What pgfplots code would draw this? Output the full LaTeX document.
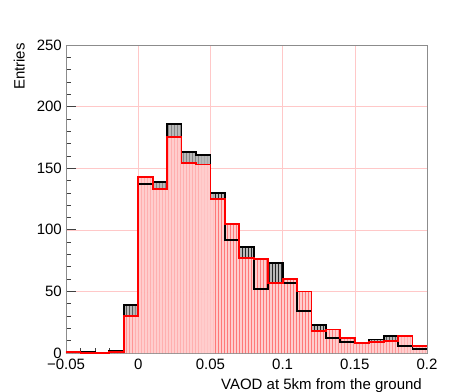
\documentclass[border=0pt]{standalone}
\usepackage{pgfplots}
\pgfplotsset{compat=1.18}
\usepackage{fontspec}
\setmainfont{Liberation Sans}
\usetikzlibrary{patterns}
\definecolor{pinkfill}{RGB}{255,205,205}
\definecolor{pinkline}{RGB}{255,120,120}
\definecolor{grayfill}{RGB}{185,185,185}
\definecolor{gridred}{RGB}{255,200,200}
\begin{document}
\fontsize{15bp}{18bp}\selectfont
\begin{tikzpicture}
\begin{axis}[
  scale only axis, width=361bp, height=308bp,
  xmin=-0.05, xmax=0.2, ymin=0, ymax=250,
  xtick={-0.05,0,0.05,0.1,0.15,0.2},
  xticklabels={−0.05,0,0.05,0.1,0.15,0.2},
  ytick={0,50,100,150,200,250},
  yticklabels={0,50,100,150,200,250},
  minor x tick num=4, minor y tick num=4,
  xtick pos=bottom, ytick pos=left,
  tick align=inside,
  major tick length=10bp, minor tick length=5bp,
  tick style={black!75, line width=0.6bp},
  axis line style={black!45, line width=0.8bp},
  grid=major, major grid style={gridred, line width=0.5bp},
  axis on top=false,
  xticklabel style={font=\fontsize{15bp}{18bp}\selectfont, yshift=-1bp},
  yticklabel style={font=\fontsize{15bp}{18bp}\selectfont, xshift=1bp},
  /pgf/number format/assume math mode=true,
  xlabel={VAOD at 5km from the ground},
  xlabel style={font=\fontsize{15bp}{18bp}\selectfont, at={(rel axis cs:1,0)}, anchor=north east, yshift=-20bp},
]
% black histogram fill
\addplot[const plot mark left, draw=none, fill=grayfill] coordinates {
(-0.05,1)(-0.04,1)(-0.03,0)(-0.02,2)(-0.01,39)(0,137)(0.01,139)(0.02,186)(0.03,163)(0.04,161)
(0.05,130)(0.06,92)(0.07,86)(0.08,52)(0.09,73)(0.10,57)(0.11,34)(0.12,23)(0.13,12)(0.14,9)
(0.15,8)(0.16,11)(0.17,14)(0.18,6)(0.19,3)(0.2,3)} \closedcycle;
\addplot[const plot mark left, draw=none, pattern=vertical lines, pattern color=black!85] coordinates {
(-0.05,1)(-0.04,1)(-0.03,0)(-0.02,2)(-0.01,39)(0,137)(0.01,139)(0.02,186)(0.03,163)(0.04,161)
(0.05,130)(0.06,92)(0.07,86)(0.08,52)(0.09,73)(0.10,57)(0.11,34)(0.12,23)(0.13,12)(0.14,9)
(0.15,8)(0.16,11)(0.17,14)(0.18,6)(0.19,3)(0.2,3)} \closedcycle;
% red histogram fill
\addplot[const plot mark left, draw=none, fill=pinkfill] coordinates {
(-0.05,1)(-0.04,0)(-0.03,0)(-0.02,1)(-0.01,30)(0,143)(0.01,133)(0.02,175)(0.03,154)(0.04,153)
(0.05,125)(0.06,105)(0.07,77)(0.08,76)(0.09,57)(0.10,60)(0.11,50)(0.12,18)(0.13,19)(0.14,12)
(0.15,8)(0.16,9)(0.17,10)(0.18,14)(0.19,6)(0.2,6)} \closedcycle;
\addplot[const plot mark left, draw=none, pattern=vertical lines, pattern color=pinkline] coordinates {
(-0.05,1)(-0.04,0)(-0.03,0)(-0.02,1)(-0.01,30)(0,143)(0.01,133)(0.02,175)(0.03,154)(0.04,153)
(0.05,125)(0.06,105)(0.07,77)(0.08,76)(0.09,57)(0.10,60)(0.11,50)(0.12,18)(0.13,19)(0.14,12)
(0.15,8)(0.16,9)(0.17,10)(0.18,14)(0.19,6)(0.2,6)} \closedcycle;
% black outline
\addplot[const plot mark left, black, line width=1.8bp, mark=none] coordinates {
(-0.05,1)(-0.04,1)(-0.03,0)(-0.02,2)(-0.01,39)(0,137)(0.01,139)(0.02,186)(0.03,163)(0.04,161)
(0.05,130)(0.06,92)(0.07,86)(0.08,52)(0.09,73)(0.10,57)(0.11,34)(0.12,23)(0.13,12)(0.14,9)
(0.15,8)(0.16,11)(0.17,14)(0.18,6)(0.19,3)(0.2,3)};
% red outline
\addplot[const plot mark left, red, line width=1.8bp, mark=none] coordinates {
(-0.05,1)(-0.04,0)(-0.03,0)(-0.02,1)(-0.01,30)(0,143)(0.01,133)(0.02,175)(0.03,154)(0.04,153)
(0.05,125)(0.06,105)(0.07,77)(0.08,76)(0.09,57)(0.10,60)(0.11,50)(0.12,18)(0.13,19)(0.14,12)
(0.15,8)(0.16,9)(0.17,10)(0.18,14)(0.19,6)(0.2,6)};
\end{axis}
\node[rotate=90, anchor=south east, inner sep=0pt, font=\fontsize{15bp}{18bp}\selectfont] at (-41bp,310bp) {Entries};
\pgfresetboundingbox
\path (-66bp,-39bp) rectangle (394bp,353bp);
\end{tikzpicture}
\end{document}
